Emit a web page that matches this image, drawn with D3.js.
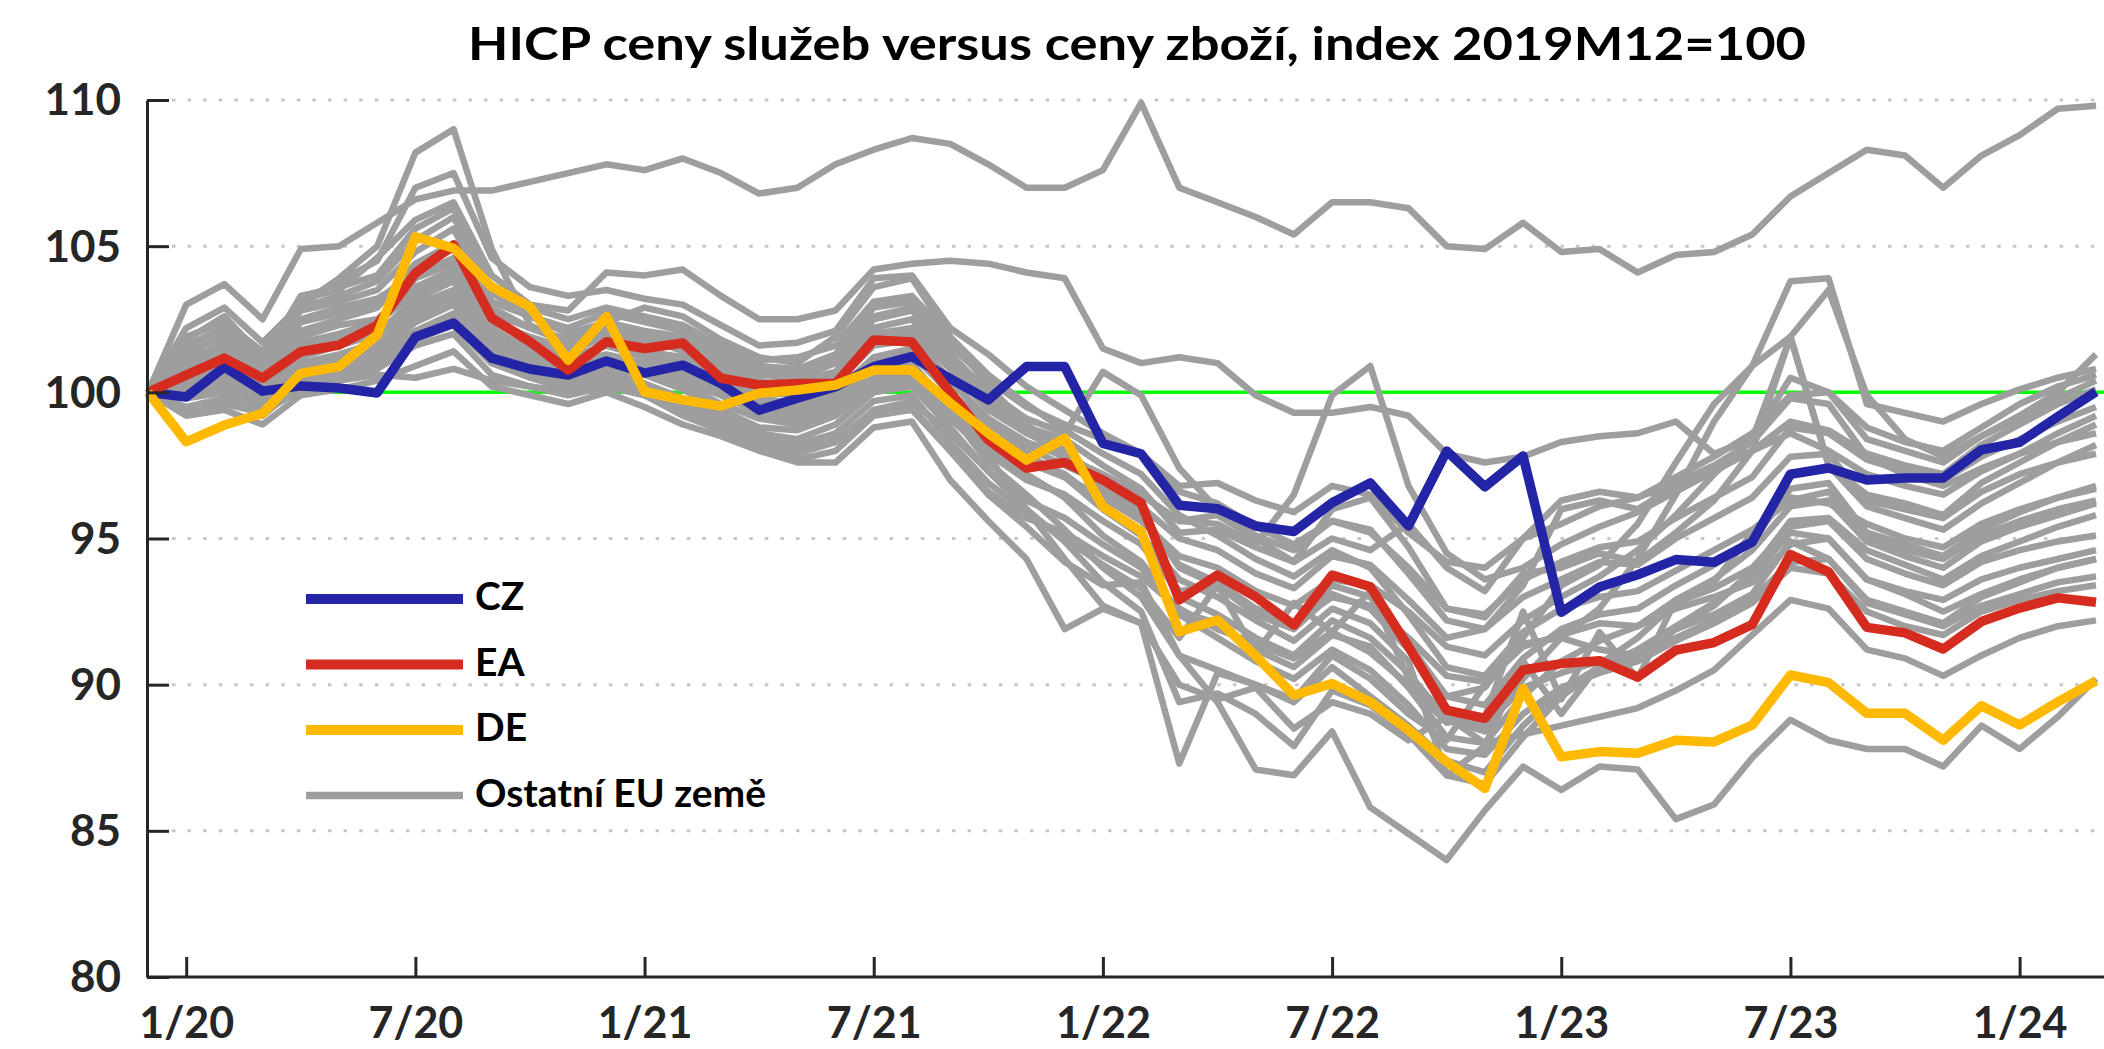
<!DOCTYPE html>
<html>
<head>
<meta charset="utf-8">
<script src="https://cdn.jsdelivr.net/npm/d3@7"></script>
<style>
  html, body { margin: 0; padding: 0; background: #fff; }
  svg { display: block; font-family: Lato, "Open Sans", sans-serif; font-weight: bold; }
</style>
</head>
<body>
<svg id="chart" width="2104" height="1049"></svg>
<script>
// monthly categories 12/19 .. 3/24
const months = ["12/19",
  "1/20","2/20","3/20","4/20","5/20","6/20","7/20","8/20","9/20","10/20","11/20","12/20",
  "1/21","2/21","3/21","4/21","5/21","6/21","7/21","8/21","9/21","10/21","11/21","12/21",
  "1/22","2/22","3/22","4/22","5/22","6/22","7/22","8/22","9/22","10/22","11/22","12/22",
  "1/23","2/23","3/23","4/23","5/23","6/23","7/23","8/23","9/23","10/23","11/23","12/23",
  "1/24","2/24","3/24"];

const yTicks = [80, 85, 90, 95, 100, 105, 110];

const cz = [100, 99.84, 100.87, 100.04, 100.22, 100.15, 99.98, 101.89, 102.37, 101.17, 100.8, 100.59, 101.07,
  100.66, 100.93, 100.3, 99.39, 99.8, 100.19, 100.88, 101.22, 100.47, 99.74, 100.88, 100.88, 98.25,
  97.9, 96.14, 96.02, 95.43, 95.24, 96.22, 96.9, 95.43, 97.99, 96.77, 97.82, 92.48, 93.34,
  93.76, 94.28, 94.19, 94.88, 97.2, 97.41, 97.0, 97.07, 97.07, 98.03, 98.29, 99.17, 100.02];

const ea = [100, 100.59, 101.17, 100.49, 101.39, 101.62, 102.3, 104.08, 105.04, 102.54, 101.73, 100.76, 101.73,
  101.5, 101.69, 100.48, 100.25, 100.3, 100.3, 101.79, 101.72, 100.0, 98.37, 97.41, 97.6, 97.0,
  96.22, 92.9, 93.75, 93.0, 92.04, 93.75, 93.35, 91.3, 89.13, 88.85, 90.5, 90.72, 90.82,
  90.26, 91.18, 91.44, 92.06, 94.45, 93.86, 91.96, 91.77, 91.22, 92.16, 92.62, 92.97, 92.82];

const de = [100, 98.31, 98.88, 99.28, 100.65, 100.88, 101.96, 105.32, 104.93, 103.61, 102.93, 101.1, 102.59,
  100.02, 99.74, 99.53, 99.97, 100.08, 100.25, 100.76, 100.76, 99.64, 98.6, 97.68, 98.43, 96.09,
  95.24, 91.81, 92.21, 90.99, 89.64, 90.04, 89.41, 88.45, 87.36, 86.45, 89.87, 87.53, 87.71,
  87.65, 88.1, 88.04, 88.62, 90.33, 90.07, 89.02, 89.02, 88.1, 89.28, 88.62, 89.41, 90.13];

// other EU countries
const others = [
  [100, 103.0, 103.7, 102.5, 104.9, 105.0, 105.8, 106.6, 106.9, 106.9, 107.2, 107.5, 107.8,
   107.6, 108.0, 107.5, 106.8, 107.0, 107.8, 108.3, 108.7, 108.5, 107.8, 107.0, 107.0, 107.6,
   109.9, 107.0, 106.5, 106.0, 105.4, 106.5, 106.5, 106.3, 105.0, 104.9, 105.8, 104.8, 104.9,
   104.1, 104.7, 104.8, 105.4, 106.7, 107.5, 108.3, 108.1, 107.0, 108.1, 108.8, 109.7, 109.8],
  [100, 102.2, 102.9, 101.7, 103.0, 103.9, 105.0, 108.2, 109.0, 104.9, 102.3, 101.6, 102.4,
   102.9, 102.6, 101.8, 101.2, 101.0, 101.9, 103.6, 103.9, 101.9, 100.2, 98.9, 98.0, 97.0,
   96.5, 95.6, 95.8, 95.0, 94.2, 96.0, 96.4, 94.7, 92.6, 92.3, 93.8, 94.0, 94.5,
   94.2, 95.2, 96.3, 98.0, 101.9, 97.5, 96.5, 96.2, 95.8, 96.9, 97.6, 98.3, 98.9],
  [100, 101.8, 102.6, 101.2, 103.2, 103.5, 104.6, 105.9, 106.5, 104.0, 103.0, 102.8, 104.1,
   104.0, 104.2, 103.3, 102.5, 102.5, 102.8, 104.2, 104.4, 104.5, 104.4, 104.1, 103.9, 101.5,
   101.0, 101.2, 101.0, 99.9, 99.3, 99.3, 99.5, 99.2, 97.9, 97.6, 97.8, 98.3, 98.5,
   98.6, 99.0, 97.9, 98.4, 100.5, 100.0, 98.8, 98.3, 98.0, 98.8, 99.6, 100.2, 100.6],
  [100, 99.4, 99.6, 99.3, 100.1, 100.4, 100.6, 100.5, 100.8, 100.4, 100.2, 100.0, 100.3,
   99.9, 99.2, 98.7, 98.1, 97.7, 98.0, 99.2, 99.4, 98.0, 96.5, 95.4, 94.2, 93.4,
   93.5, 91.0, 89.4, 87.1, 86.9, 88.4, 85.8, 84.9, 84.0, 85.7, 87.2, 86.4, 87.2,
   87.1, 85.4, 85.9, 87.5, 88.8, 88.1, 87.8, 87.8, 87.2, 88.6, 87.8, 88.9, 90.2],
  [100, 100.4, 100.9, 100.2, 101.2, 101.6, 102.0, 103.2, 103.8, 102.0, 101.5, 101.0, 101.3,
   101.0, 100.6, 100.0, 99.4, 99.2, 99.6, 100.9, 101.0, 99.4, 97.8, 96.0, 94.3, 92.7,
   92.1, 87.3, 90.4, 90.0, 89.5, 91.0, 90.2, 89.0, 88.1, 90.0, 91.4, 91.6, 91.2,
   91.0, 91.9, 92.4, 93.1, 94.9, 94.3, 92.9, 92.5, 92.1, 93.0, 93.5, 94.0, 94.3],
  [100, 101.0, 101.6, 100.6, 102.4, 102.7, 103.1, 104.2, 104.9, 102.6, 101.8, 101.4, 101.9,
   101.7, 101.5, 100.9, 100.4, 100.1, 100.6, 102.0, 102.2, 100.8, 99.4, 98.6, 98.0, 96.6,
   95.7, 94.1, 93.5, 92.6, 92.1, 93.4, 93.0, 91.4, 89.6, 89.9, 91.6, 93.4, 94.1,
   95.5, 97.6, 99.6, 100.9, 103.8, 103.9, 99.6, 99.3, 99.0, 99.6, 100.1, 100.5, 100.8],
  [100, 100.6, 101.3, 100.3, 101.9, 102.3, 102.5, 103.6, 104.2, 102.2, 101.4, 101.2, 101.6,
   101.2, 101.0, 100.4, 99.8, 99.6, 100.0, 101.2, 101.5, 99.9, 98.6, 97.8, 97.2, 96.2,
   95.2, 93.0, 92.4, 91.6, 91.0, 92.2, 91.6, 90.4, 88.8, 88.4, 90.2, 91.6, 92.6,
   94.3, 96.5, 99.0, 100.9, 101.9, 103.5, 99.9, 98.4, 97.8, 98.5, 99.2, 100.0, 101.3],
  [100, 100.2, 100.5, 99.8, 100.9, 101.2, 101.5, 102.6, 103.1, 101.5, 101.0, 100.6, 101.0,
   100.7, 100.4, 99.9, 99.4, 99.3, 99.7, 100.8, 100.9, 99.6, 98.4, 97.6, 97.1, 96.4,
   95.6, 94.4, 94.0, 93.2, 92.7, 93.6, 93.4, 92.5, 91.3, 91.0, 92.2, 93.0, 93.7,
   94.6, 95.8, 97.2, 98.4, 101.9, 97.5, 96.1, 95.7, 95.3, 96.2, 96.9, 97.6, 98.2],
  [100, 101.9, 102.4, 101.4, 103.0, 103.8, 104.5, 107.0, 107.5, 104.6, 103.6, 103.3, 103.5,
   103.2, 103.0, 102.3, 101.6, 101.7, 102.1, 103.9, 104.0, 102.2, 101.3, 100.2, 99.4, 98.6,
   97.9, 96.6, 96.2, 95.4, 94.8, 95.6, 95.3, 93.8, 92.2, 91.9, 93.0, 93.6, 94.2,
   94.1, 95.0, 95.7, 96.4, 97.8, 97.9, 96.3, 96.0, 95.7, 96.6, 97.2, 97.6, 97.9],
  [100, 101.3, 102.0, 101.0, 102.8, 103.1, 103.5, 104.8, 105.6, 103.1, 102.6, 102.2, 102.7,
   102.4, 102.1, 101.4, 100.9, 100.8, 101.3, 102.9, 103.1, 101.6, 100.4, 99.5, 98.9, 98.4,
   97.9, 96.8, 96.9, 96.3, 95.9, 96.8, 96.5, 95.2, 94.2, 94.0, 95.0, 95.5, 96.1,
   96.4, 97.1, 97.8, 98.6, 99.9, 100.0, 98.4, 98.0, 97.6, 98.5, 99.1, 99.8, 100.4],
  [100, 100.8, 101.0, 100.4, 101.6, 101.9, 102.3, 103.9, 104.4, 102.4, 101.9, 101.5, 102.0,
   101.8, 101.6, 100.8, 100.3, 100.4, 100.7, 102.2, 102.5, 101.0, 99.6, 98.8, 98.4, 97.5,
   96.7, 95.2, 95.3, 94.7, 94.2, 95.0, 94.6, 95.5, 94.0, 93.2, 95.0, 96.3, 96.6,
   96.4, 96.9, 97.5, 98.3, 99.8, 99.6, 97.8, 97.2, 96.8, 97.4, 97.9, 98.3, 98.6],
  [100, 100.1, 100.3, 99.6, 100.5, 100.8, 101.1, 102.1, 102.7, 101.2, 100.8, 100.5, 100.9,
   100.6, 100.1, 99.4, 98.8, 98.7, 99.2, 100.2, 100.4, 99.1, 97.9, 97.0, 96.5, 95.6,
   94.8, 93.2, 93.4, 92.6, 92.1, 93.0, 92.7, 91.6, 90.3, 90.1, 91.3, 91.7, 92.1,
   92.0, 92.6, 93.0, 93.5, 94.8, 95.0, 93.6, 93.2, 92.9, 93.6, 94.0, 94.3, 94.6],
  [100, 99.2, 99.4, 98.9, 99.9, 100.1, 100.4, 100.9, 101.4, 100.2, 99.9, 99.6, 100.0,
   99.5, 98.9, 98.5, 98.0, 97.6, 97.6, 98.8, 99.0, 97.0, 95.6, 94.3, 91.9, 92.6,
   92.1, 90.0, 89.5, 89.9, 88.5, 89.4, 89.0, 88.1, 88.9, 88.0, 88.3, 88.6, 88.9,
   89.2, 89.8, 90.5, 91.7, 92.9, 92.6, 91.2, 90.9, 90.3, 91.0, 91.6, 92.0, 92.2],
  [100, 99.8, 100.0, 99.2, 100.3, 100.6, 100.9, 101.8, 102.3, 101.0, 100.6, 100.3, 100.7,
   100.2, 99.6, 99.0, 98.4, 98.2, 98.6, 99.7, 99.9, 98.3, 96.9, 95.9, 95.0, 94.1,
   93.3, 91.6, 93.4, 91.1, 92.8, 91.8, 93.2, 90.2, 89.0, 88.6, 89.9, 90.4, 90.8,
   91.1, 91.6, 92.2, 92.9, 94.2, 94.3, 92.8, 92.4, 92.0, 92.7, 93.1, 93.5, 93.7],
  [100, 100.5, 100.9, 100.1, 101.4, 101.6, 102.0, 103.0, 103.5, 101.8, 101.3, 100.9, 101.2,
   101.0, 100.8, 100.2, 99.6, 99.5, 99.9, 101.1, 101.3, 100.0, 98.9, 98.1, 97.5, 96.9,
   96.1, 95.0, 94.6, 93.8, 93.3, 94.4, 94.1, 92.9, 91.6, 91.9, 93.4, 96.0, 96.3,
   96.0, 96.8, 97.5, 98.0, 98.6, 98.0, 97.2, 96.8, 96.5, 97.3, 97.9, 98.6, 99.2],
  [100, 101.6, 102.2, 101.1, 103.3, 103.6, 104.0, 105.6, 106.3, 103.5, 102.9, 102.5, 102.9,
   102.6, 102.3, 101.6, 101.1, 101.2, 101.6, 103.1, 103.3, 101.9, 100.6, 99.6, 98.7, 97.9,
   97.2, 95.8, 95.1, 94.3, 93.7, 94.6, 94.0, 92.4, 90.6, 90.3, 91.8, 92.6, 93.0,
   93.2, 93.9, 94.6, 95.3, 96.3, 96.6, 95.1, 94.6, 94.3, 95.1, 95.6, 96.0, 96.3],
  [100, 100.3, 100.7, 100.0, 101.0, 101.3, 101.7, 102.8, 103.3, 101.6, 101.2, 100.8, 101.1,
   100.9, 100.6, 99.9, 99.3, 99.1, 99.5, 100.5, 100.7, 99.5, 98.1, 97.2, 96.4, 95.1,
   94.2, 92.5, 92.1, 91.2, 90.6, 91.7, 91.3, 89.9, 88.2, 88.0, 89.6, 90.8, 91.5,
   92.0, 92.9, 93.6, 94.6, 96.1, 96.3, 94.9, 94.4, 94.0, 94.9, 95.4, 95.8, 96.2],
  [100, 100.9, 101.5, 100.6, 102.1, 102.5, 102.9, 104.4, 105.1, 102.9, 102.2, 101.8, 102.3,
   102.0, 101.8, 101.1, 100.6, 100.5, 101.0, 102.5, 102.8, 101.3, 100.0, 99.1, 98.6, 100.7,
   99.9, 97.4, 96.0, 95.1, 94.6, 95.6, 95.2, 94.0, 92.6, 92.4, 93.6, 94.2, 94.7,
   94.9, 95.7, 96.4, 97.1, 98.8, 98.6, 97.7, 97.3, 97.0, 97.8, 98.4, 99.0, 99.5],
  [100, 99.9, 100.2, 99.5, 100.7, 101.0, 101.3, 102.4, 103.0, 101.4, 101.0, 100.6, 101.0,
   100.8, 100.3, 99.6, 99.1, 98.9, 99.3, 100.4, 100.6, 99.3, 97.6, 96.5, 95.3, 94.0,
   93.0, 91.0, 90.5, 90.0, 89.4, 90.6, 89.6, 88.6, 87.4, 87.0, 88.6, 89.8, 90.6,
   91.2, 92.0, 92.8, 93.7, 95.2, 95.0, 93.6, 93.1, 92.5, 93.1, 93.6, 94.0, 94.3],
  [100, 100.7, 101.2, 100.3, 101.7, 102.0, 102.4, 103.4, 104.0, 102.0, 101.6, 101.2, 101.6,
   101.4, 101.2, 100.5, 100.0, 99.9, 100.3, 101.6, 101.8, 100.4, 99.1, 98.3, 97.8, 97.2,
   96.5, 95.6, 95.5, 94.8, 96.5, 99.9, 100.9, 96.8, 94.5, 93.6, 94.0, 94.8, 95.4,
   95.9, 96.6, 97.3, 98.0, 99.0, 98.7, 97.9, 97.5, 97.2, 98.2, 98.9, 99.6, 100.1],
  [100, 101.1, 101.7, 100.8, 102.5, 102.9, 103.2, 104.0, 104.6, 102.7, 102.2, 101.7, 102.1,
   101.9, 101.4, 100.7, 100.2, 100.1, 100.5, 101.8, 102.0, 100.4, 99.0, 97.9, 97.1, 96.0,
   95.1, 93.6, 93.0, 92.2, 91.5, 92.6, 92.1, 90.8, 86.9, 87.9, 90.8, 89.0, 90.7,
   91.6, 92.8, 93.3, 94.0, 95.4, 95.6, 94.3, 93.8, 93.4, 94.2, 94.6, 94.9, 95.1],
  [100, 100.4, 100.6, 99.9, 100.8, 101.1, 101.4, 102.0, 102.5, 101.0, 100.7, 100.3, 100.8,
   100.3, 99.8, 99.2, 98.6, 98.4, 98.9, 100.0, 100.2, 98.8, 97.3, 96.3, 95.7, 94.8,
   94.0, 92.4, 91.6, 90.8, 90.2, 91.2, 90.5, 89.3, 87.8, 87.6, 89.0, 89.9, 90.4,
   90.8, 91.5, 92.1, 92.8, 94.0, 93.8, 92.5, 92.0, 91.7, 92.5, 92.9, 93.2, 93.4],
  [100, 101.4, 101.9, 100.9, 102.9, 103.3, 103.8, 105.2, 106.0, 103.4, 102.6, 102.0, 102.4,
   102.1, 101.9, 101.2, 100.7, 100.6, 101.1, 102.6, 102.9, 101.3, 99.9, 98.7, 97.7, 96.8,
   95.9, 94.0, 93.4, 92.4, 91.9, 93.1, 92.6, 91.2, 89.6, 89.3, 90.9, 91.9, 92.4,
   92.6, 93.4, 94.1, 94.9, 96.7, 96.9, 95.2, 94.8, 94.4, 95.3, 95.9, 96.4, 96.8],
  [100, 100.2, 100.4, 99.7, 100.6, 100.9, 101.2, 101.9, 102.3, 101.0, 100.5, 100.1, 100.5,
   100.1, 99.5, 98.9, 98.3, 98.0, 98.4, 99.3, 99.5, 98.0, 96.6, 95.7, 95.2, 94.4,
   93.7, 92.6, 91.9, 91.4, 90.9, 91.8, 91.1, 90.0, 88.7, 88.9, 92.5, 89.5, 91.8,
   90.2, 92.9, 93.5, 95.2, 96.4, 96.2, 95.5, 95.0, 94.7, 95.5, 96.0, 96.4, 96.7],
  [100, 99.5, 99.8, 99.4, 100.3, 100.5, 100.8, 101.6, 102.0, 100.6, 100.2, 99.9, 100.2,
   99.9, 99.3, 98.8, 98.2, 97.9, 98.3, 99.4, 99.7, 98.6, 97.3, 96.0, 94.9, 93.5,
   92.5, 89.4, 89.7, 89.0, 87.9, 89.8, 89.3, 88.3, 86.9, 86.6, 88.2, 89.6, 90.5,
   91.0, 91.9, 92.7, 93.9, 95.6, 95.7, 94.6, 94.1, 93.6, 94.4, 94.9, 95.4, 95.8]
];

const title = "HICP ceny služeb versus ceny zboží, index 2019M12=100";
const legendLabels = ["CZ", "EA", "DE", "Ostatní EU země"];

const colors = { cz: "#2424a6", ea: "#d62b1f", de: "#ffb900", other: "#9e9e9e" };

const svg = d3.select("#chart");

const x = d3.scalePoint().domain(months).range([148, 2096]);
const y = d3.scaleLinear().domain([80, 110]).range([977, 100]);

// title
svg.append("text")
    .attr("x", 1137)
    .attr("y", 60)
    .attr("text-anchor", "middle")
    .attr("font-size", 46)
    .attr("textLength", 1338)
    .attr("lengthAdjust", "spacingAndGlyphs")
    .attr("fill", "#000")
    .text(title);

// dotted gridlines
svg.append("g")
  .selectAll("line")
  .data(yTicks.filter(d => d !== 80 && d !== 100))
  .join("line")
    .attr("x1", 172)
    .attr("x2", 2104)
    .attr("y1", d => y(d))
    .attr("y2", d => y(d))
    .attr("stroke", "#c6c6c6")
    .attr("stroke-width", 3)
    .attr("stroke-dasharray", "3.5 12.1");

// reference line at 100
svg.append("line")
    .attr("x1", 148)
    .attr("x2", 2104)
    .attr("y1", y(100))
    .attr("y2", y(100))
    .attr("stroke", "#00ff00")
    .attr("stroke-width", 3.5);

const line = d3.line()
    .x((d, i) => x(months[i]))
    .y(d => y(d));

svg.append("g")
  .selectAll("path")
  .data(others)
  .join("path")
    .attr("d", line)
    .attr("fill", "none")
    .attr("stroke", colors.other)
    .attr("stroke-width", 6.5)
    .attr("stroke-linejoin", "round");

[[cz, colors.cz], [ea, colors.ea], [de, colors.de]].forEach(([s, c]) => {
  svg.append("path")
      .attr("d", line(s))
      .attr("fill", "none")
      .attr("stroke", c)
      .attr("stroke-width", 9.5)
      .attr("stroke-linejoin", "round");
});

// axes
const yAxis = svg.append("g")
    .attr("transform", "translate(147,0)")
    .call(d3.axisLeft(y).tickValues(yTicks).tickSizeInner(-22).tickSizeOuter(0).tickPadding(26));

const xAxis = svg.append("g")
    .attr("transform", "translate(0,977)")
    .call(d3.axisBottom(x)
      .tickValues(months.filter(m => m.startsWith("1/") || m.startsWith("7/")))
      .tickSizeInner(-20).tickSizeOuter(0).tickPadding(30));
xAxis.select(".domain").attr("d", "M147,0H2104");

[yAxis, xAxis].forEach(g => {
  g.selectAll(".domain, .tick line").attr("stroke", "#262626").attr("stroke-width", 3);
  g.selectAll("text")
      .attr("font-family", "Lato, 'Open Sans', sans-serif")
      .attr("font-weight", "bold")
      .attr("font-size", 44)
      .attr("fill", "#262626");
});
yAxis.selectAll("text").attr("dy", "0.34em");
xAxis.selectAll("text").attr("font-size", 43);

// legend
const legend = svg.append("g").attr("transform", "translate(306,599)");
const legendColors = [colors.cz, colors.ea, colors.de, colors.other];
const item = legend.selectAll("g")
  .data(legendLabels)
  .join("g")
    .attr("transform", (d, i) => `translate(0,${i * 65.5})`);
item.append("line")
    .attr("x1", 0)
    .attr("x2", 157)
    .attr("stroke", (d, i) => legendColors[i])
    .attr("stroke-width", (d, i) => i === 3 ? 7.5 : 10);
item.append("text")
    .attr("x", 169)
    .attr("y", 11)
    .attr("font-size", 39)
    .attr("fill", "#000")
    .text(d => d);
</script>
</body>
</html>
